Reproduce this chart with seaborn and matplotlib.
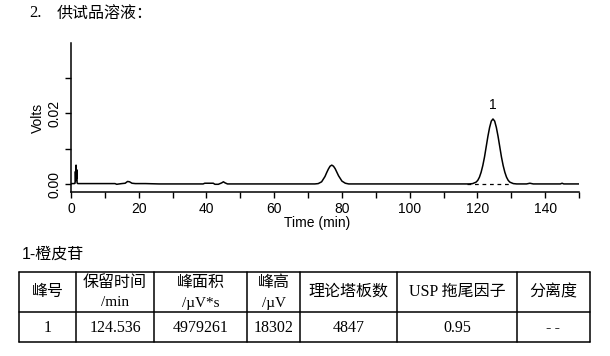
import matplotlib
matplotlib.use("Agg")
import matplotlib.pyplot as plt
from matplotlib.lines import Line2D
import seaborn as sns
import pandas as pd

# ---------------- data ----------------
time_min = [0.0, 0.5, 1.0, 1.2, 1.3, 1.4, 1.5, 1.6, 1.7, 1.8, 2.0, 3.0, 6.0, 10.0,
            13.0, 13.5, 14.2, 15.0, 16.0, 16.7, 17.3, 18.0, 19.0, 22.0, 26.0, 30.0,
            35.0, 39.0, 39.5, 42.0, 42.5, 43.5, 44.5, 45.0, 45.5, 46.2, 50.0, 55.0,
            60.0, 65.0, 70.0, 72.0, 73.0, 74.0, 75.0, 75.5, 76.0, 76.5, 77.0, 77.5,
            78.0, 78.5, 79.0, 80.0, 81.0, 82.0, 84.0, 90.0, 100.0, 110.0, 115.0,
            117.6, 118.6, 119.6, 120.1, 120.6, 121.1, 121.6, 122.1, 122.6, 123.1,
            123.6, 124.1, 124.6, 125.1, 125.6, 126.1, 126.6, 127.1, 127.6, 128.1,
            128.6, 129.1, 129.6, 130.6, 131.6, 134.5, 135.5, 136.5, 137.5, 140.0,
            144.5, 145.0, 145.5, 150.0]
volts = [0.0002, 0.0002, 0.0002, 0.0003, 0.0036, 0.0010, 0.0054, 0.0015, 0.0041, 0.0004,
         0.0002, 0.0002, 0.0002, 0.0002,
         0.0002, 0.0000, 0.0001, 0.0002, 0.0003, 0.0008, 0.0007, 0.0003, 0.0002, 0.0002, 0.0001, 0.0001,
         0.0001, 0.0001, 0.0003, 0.0003, 0.0000, 0.0000, 0.0004, 0.0007, 0.0004, 0.0001, 0.0001, 0.0001,
         0.0001, 0.0001, 0.0001, 0.0001, 0.0002, 0.0007, 0.0022, 0.0033, 0.0043, 0.0051, 0.0054, 0.0051,
         0.0044, 0.0034, 0.0024, 0.0009, 0.0003, 0.0001, 0.0001, 0.0001, 0.0001, 0.0001, 0.0001,
         0.0001, 0.0002, 0.0006, 0.0011, 0.0020, 0.0034, 0.0053, 0.0077, 0.0106, 0.0135,
         0.0160, 0.0178, 0.0184, 0.0178, 0.0160, 0.0135, 0.0106, 0.0077, 0.0053, 0.0034,
         0.0020, 0.0011, 0.0006, 0.0002, 0.0001, 0.0001, 0.0003, 0.0001, 0.0001, 0.0001,
         0.0001, 0.0003, 0.0001, 0.0001]

baseline_t = [117.0, 129.5]
baseline_v = [-0.00003, -0.00003]
peak_label = "1"
peak_label_t = 124.6
peak_label_v = 0.0203

x_ticks = [0, 10, 20, 30, 40, 50, 60, 70, 80, 90, 100, 110, 120, 130, 140, 150]
x_labels = ["0", "", "20", "", "40", "", "60", "", "80", "", "100", "", "120", "", "140", ""]
y_ticks = [0.0, 0.01, 0.02, 0.03]
y_labels = ["0.00", "", "0.02", ""]

title_num = "2."
title_text = "供试品溶液："
compound = "1-橙皮苷"
header_top = ["峰号", "保留时间", "峰面积", "峰高", "理论塔板数", "USP 拖尾因子", "分离度"]
header_unit = ["", "/min", "/µV*s", "/µV", "", "", ""]
row_values = ["1", "124.536", "4979261", "18302", "4847", "0.95", "-\u2009-"]

# ---------------- figure ----------------
sns.set_theme(style="ticks")
plt.rcParams["font.family"] = ["Liberation Sans", "Noto Sans CJK SC", "DejaVu Sans"]
plt.rcParams["axes.unicode_minus"] = False

W, H = 610, 356
fig = plt.figure(figsize=(W / 100, H / 100), dpi=100)
fig.patch.set_facecolor("white")

def fx(px):
    return px / W

def fy(py):
    return 1 - py / H

ax_l, ax_r, ax_t, ax_b = 71, 579, 43, 192
ax = fig.add_axes([fx(ax_l), fy(ax_b), fx(ax_r) - fx(ax_l), (ax_b - ax_t) / H])
ax.set_facecolor("white")

df = pd.DataFrame({"t": time_min, "v": volts})
sns.lineplot(data=df, x="t", y="v", ax=ax, color="black", linewidth=1.1,
             estimator=None, sort=False)
ax.plot(baseline_t, baseline_v, color="black", linewidth=0.9, linestyle=(0, (3, 3)))
ax.text(peak_label_t, peak_label_v, peak_label, ha="center", va="bottom",
        fontsize=10, color="black")

ax.set_xlim(0, 150)
ax.set_ylim(-0.00217, 0.0398)
ax.set_xticks(x_ticks)
ax.set_xticklabels(x_labels)
ax.set_yticks(y_ticks)
ax.set_yticklabels(y_labels, rotation=90, va="center")
ax.tick_params(axis="both", direction="out", length=4, width=1, color="black",
               labelsize=10, labelcolor="black", pad=3)
for s in ["top", "right"]:
    ax.spines[s].set_visible(False)
for s in ["left", "bottom"]:
    ax.spines[s].set_color("black")
    ax.spines[s].set_linewidth(1.1)
ax.set_xlabel("Time (min)", fontsize=10, color="black")
ax.xaxis.set_label_coords((317 - ax_l) / (ax_r - ax_l), -(223 - ax_b) / (ax_b - ax_t),
                          transform=ax.transAxes)
ax.xaxis.label.set_va("center")
ax.set_ylabel("Volts", fontsize=10, color="black")
ax.yaxis.set_label_coords(-(ax_l - 37.5) / (ax_r - ax_l), 0.5)
ax.yaxis.label.set_va("center")
ax.grid(False)

# ---------------- title texts ----------------
fig.text(fx(29), fy(13), title_num, fontsize=12, family=["Liberation Serif"],
         ha="left", va="center", color="black")
fig.text(fx(57), fy(13), title_text, fontsize=11.5,
         family=["Noto Sans CJK SC", "DejaVu Sans"], ha="left", va="center", color="black")
fig.text(fx(22), fy(254), compound, fontsize=11.5,
         family=["Liberation Sans", "Noto Sans CJK SC"], ha="left", va="center", color="black")

# ---------------- table ----------------
cols = [19, 76, 154, 247, 300, 397, 517, 590]
rows = [272, 312, 342]
for c in cols:
    fig.add_artist(Line2D([fx(c), fx(c)], [fy(rows[0]), fy(rows[-1])],
                          color="black", linewidth=1.1))
for r in rows:
    fig.add_artist(Line2D([fx(cols[0]), fx(cols[-1])], [fy(r), fy(r)],
                          color="black", linewidth=1.1))

fam_mix = ["Liberation Serif", "Noto Sans CJK SC", "DejaVu Sans"]
fam_cjk = ["Noto Sans CJK SC", "Liberation Serif"]
for i in range(len(header_top)):
    cx = (cols[i] + cols[i + 1]) / 2
    if header_unit[i]:
        fig.text(fx(cx), fy(282), header_top[i], fontsize=11.5, family=fam_cjk,
                 ha="center", va="center", color="black")
        fig.text(fx(cx), fy(303), header_unit[i], fontsize=11, family=fam_mix,
                 ha="center", va="center", color="black")
    else:
        fig.text(fx(cx), fy(292), header_top[i], fontsize=11.5, family=fam_mix,
                 ha="center", va="center", color="black")
    fig.text(fx(cx), fy(328), row_values[i], fontsize=11.5, family=fam_mix,
             ha="center", va="center", color="black")

fig.savefig("out.png", dpi=100, facecolor="white")
